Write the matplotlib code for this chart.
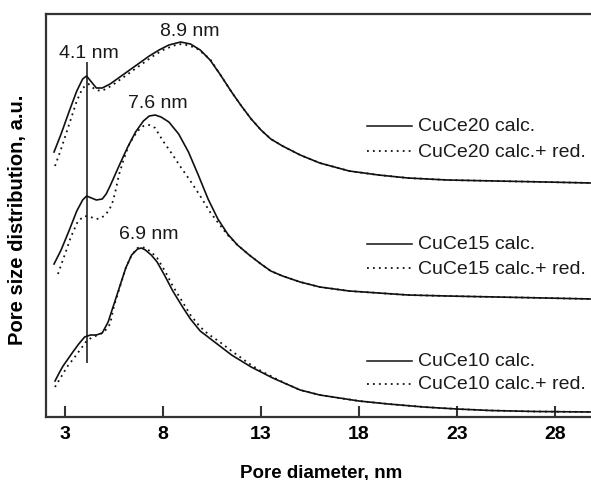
import numpy as np
import matplotlib.pyplot as plt

plt.rcParams['font.family'] = ['Liberation Sans', 'DejaVu Sans']

# CuCe20
x20 = [2.44, 2.8, 3.2, 3.6, 3.9, 4.1, 4.35, 4.6, 4.9, 5.3, 5.8, 6.3, 6.8, 7.3, 7.8, 8.3, 8.9,
       9.4, 9.9, 10.4, 10.9, 11.5, 12.0, 12.5, 13.0, 13.5, 14.1, 15.0, 16.0, 17.5, 19.0, 20.5,
       22.5, 25.0, 27.5, 29.84]
y20 = [265, 283, 305, 326, 338, 341, 335, 329, 329, 333, 340, 347, 354, 361, 367, 372, 375,
       373, 367, 357, 343, 325, 311, 298, 287, 278, 271, 262, 254, 246, 242, 239,
       237, 236, 235, 234]
x20r = [2.49, 2.8, 3.2, 3.6, 3.9, 4.2, 4.5, 4.8, 5.1, 5.5, 6.0, 6.5, 7.0, 7.5, 8.0, 8.5, 8.8,
        9.2, 9.7, 10.4, 10.9, 11.5, 12.0, 12.5, 13.0, 13.5, 14.1, 15.0, 16.0, 17.5, 19.0, 20.5,
        22.5, 25.0, 27.5, 29.84]
y20r = [251, 268, 292, 316, 329, 333, 328, 326, 328, 333, 340, 347, 354, 361, 367, 371, 373,
        372, 369, 358, 343, 325, 311, 298, 287, 278, 271, 262, 254, 246, 242, 239,
        237, 236, 235, 234]

# CuCe15
x15 = [2.44, 2.8, 3.2, 3.6, 3.9, 4.1, 4.35, 4.6, 4.9, 5.1, 5.3, 5.55, 5.8, 6.2, 6.6, 7.0, 7.3,
       7.6, 7.9, 8.3, 8.8, 9.3, 9.8, 10.3, 10.8, 11.3, 11.8, 12.4, 13.0, 13.5, 14.1, 15.0, 16.0,
       17.5, 19.0, 20.5, 22.5, 25.0, 27.5, 29.84]
y15 = [153, 167, 186, 206, 217, 221, 219, 217, 218, 223, 231, 242, 253, 270, 285, 296, 301,
       302, 300, 295, 283, 265, 242, 218, 198, 183, 172, 162, 153, 146, 141, 135, 130,
       126, 124, 122, 121, 120, 119, 118]
x15r = [2.64, 3.0, 3.3, 3.66, 4.0, 4.3, 4.6, 4.85, 5.1, 5.3, 5.45, 5.6, 5.75, 6.0, 6.3, 6.7,
        7.0, 7.3, 7.6, 8.0, 8.5, 8.9, 9.4, 9.9, 10.4, 10.9, 11.3, 11.8, 12.4, 13.0, 13.5, 14.1,
        15.0, 16.0, 17.5, 19.0, 20.5, 22.5, 25.0, 27.5, 29.84]
y15r = [143, 163, 180, 196, 201, 200, 198, 199, 203, 209, 216, 228, 242, 258, 274, 286,
        291, 292, 289, 276, 262, 250, 236, 221, 205, 192, 182, 172, 162, 153, 146, 141,
        135, 130, 126, 124, 122, 121, 120, 119, 118]

# CuCe10
x10 = [2.49, 2.7, 2.9, 3.15, 3.4, 3.7, 4.0, 4.3, 4.6, 4.9, 5.2, 5.5, 5.8, 6.1, 6.4, 6.7, 6.9,
       7.1, 7.4, 7.7, 8.1, 8.5, 9.0, 9.4, 9.9, 10.3, 10.9, 11.5, 12.0, 12.5, 13.0, 13.6, 14.3,
       15.0, 16.0, 17.0, 18.0, 19.5, 21.3, 23.0, 24.7, 27.0, 29.84]
y10 = [36, 44, 51, 58, 65, 73, 80, 82, 82, 84, 95, 113, 131, 149, 162, 168, 169,
       167, 162, 155, 141, 126, 110, 98, 86, 80, 71, 62, 56, 50, 45, 39, 33,
       27, 22, 19, 16, 13, 10, 8, 6.5, 5.5, 5]
x10r = [2.49, 2.8, 3.1, 3.5, 3.8, 4.1, 4.4, 4.7, 5.0, 5.3, 5.5, 5.8, 6.1, 6.4, 6.7, 6.9,
        7.1, 7.4, 7.7, 8.1, 8.5, 9.0, 9.4, 9.9, 10.3, 10.9, 11.5, 12.0, 12.5, 13.0, 13.6, 14.3,
        15.0, 16.0, 17.0, 18.0, 19.5, 21.3, 23.0, 24.7, 27.0, 29.84]
y10r = [30, 40, 50, 60, 68, 76, 80, 82, 85, 93, 111, 130, 149, 162, 169, 170,
        169, 165, 159, 146, 131, 115, 102, 90, 83, 75, 66, 59, 52, 46, 40, 33,
        27, 22, 19, 16, 13, 10, 8, 6.5, 5.5, 5]

peaks = [(4.1, "4.1 nm"), (8.9, "8.9 nm"), (7.6, "7.6 nm"), (6.9, "6.9 nm")]
label_pos = [(4.22, 365), (9.38, 386), (7.74, 315), (7.29, 183)]

names = ["CuCe20", "CuCe15", "CuCe10"]
series = [(x20, y20, x20r, y20r), (x15, y15, x15r, y15r), (x10, y10, x10r, y10r)]

fig = plt.figure(figsize=(5.91, 4.81), dpi=100)
ax = fig.add_axes([46 / 591, 63 / 481, 545 / 591, 403 / 481])

dot = (0, (1, 2.3))
col = '#111111'
for xs, ys, xr, yr in series:
    ax.plot(xs, ys, color=col, lw=1.2, solid_joinstyle='round')
    ax.plot(xr, yr, color=col, lw=1.3, linestyle=dot)

ax.vlines(peaks[0][0], 54, 355, color=col, lw=1.1)
for (p, t), (tx, ty) in zip(peaks, label_pos):
    ax.text(tx, ty, t, fontsize=14, ha='center', va='center', color='#1a1a1a')

# legend keys, one pair per sample
rows = [(0.7221, 0.660), (0.4293, 0.3697), (0.139, 0.0819)]
for n, (r1, r2) in zip(names, rows):
    ax.plot([0.589, 0.6716], [r1, r1], color=col, lw=1.1, transform=ax.transAxes)
    ax.plot([0.589, 0.6716], [r2, r2], color=col, lw=1.3, linestyle=dot, transform=ax.transAxes)
    ax.text(0.6826, r1, n + " calc.", fontsize=14, va='center', color='#1a1a1a',
            transform=ax.transAxes)
    ax.text(0.6826, r2, n + " calc.+ red.", fontsize=14, va='center', color='#1a1a1a',
            transform=ax.transAxes)

ax.set_xlim(2.03, 29.84)
ax.set_ylim(0, 403)
ax.set_xticks([3, 8, 13, 18, 23, 28])
ax.set_yticks([])
ax.tick_params(axis='x', direction='in', length=8, width=1.5, color='#333333', pad=6,
               labelsize=14)
for lab in ax.get_xticklabels():
    lab.set_fontweight('bold')
for s in ['left', 'bottom', 'top']:
    ax.spines[s].set_linewidth(1.6)
    ax.spines[s].set_color('#333333')
ax.spines['right'].set_visible(False)

ax.set_xlabel("Pore diameter, nm", fontsize=13.5, fontweight='bold', va='center')
ax.xaxis.set_label_coords(0.5046, -0.1365)
ax.set_ylabel("Pore size distribution, a.u.", fontsize=14.5, fontweight='bold', va='center')
ax.yaxis.set_label_coords(-0.0514, 0.491)

fig.savefig("out.png", dpi=100)
